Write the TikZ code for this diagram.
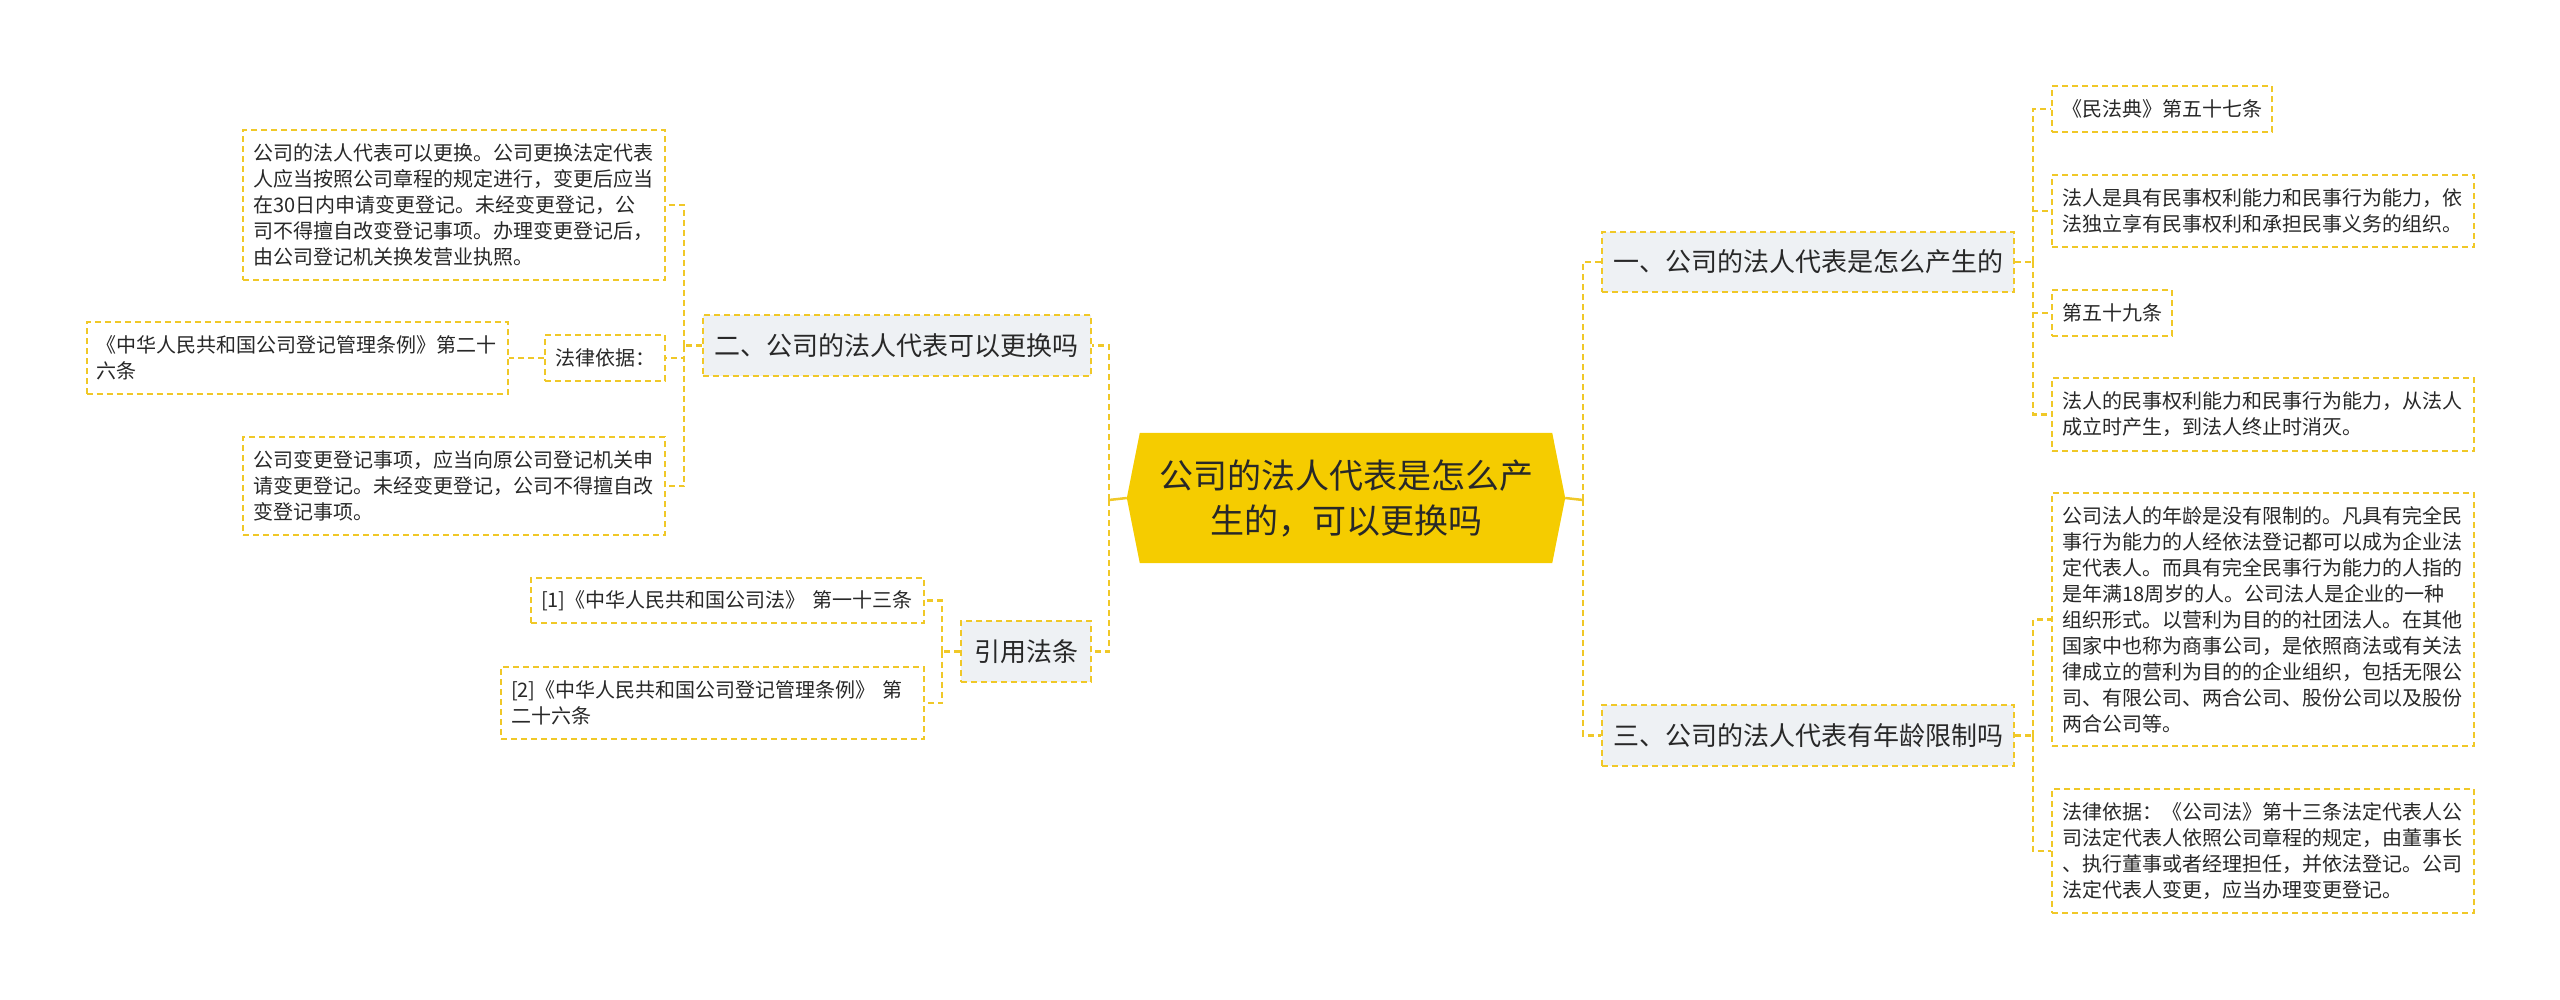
\documentclass[tikz,border=0pt]{standalone}
\usepackage{fontspec}
\setmainfont{Noto Sans CJK SC}
\usetikzlibrary{calc,backgrounds}
\definecolor{ycol}{RGB}{240,200,40}
\definecolor{cfill}{RGB}{245,204,0}
\definecolor{gfill}{RGB}{238,241,244}
\definecolor{tcol}{RGB}{40,40,40}
\tikzset{
  box/.style={draw=ycol, line width=2pt, dash pattern=on 6pt off 4pt, text=tcol},
  leaf/.style={box, fill=white, font=\fontsize{20}{26}\selectfont, align=left,
    inner xsep=10pt, inner ysep=0pt, text width=#1},
  topic/.style={box, fill=gfill, font=\fontsize{26}{32}\selectfont, align=center,
    inner sep=0pt, minimum height=61pt, minimum width=#1},
  conn/.style={draw=ycol, line width=2.5pt, dash pattern=on 6pt off 4pt},
  solidconn/.style={draw=ycol, line width=2.5pt},
  centertopic/.style={inner sep=0pt, minimum width=438pt, minimum height=130pt, text=tcol,
    font=\fontsize{34}{45}\selectfont, align=center},
}
\begin{document}
\begin{tikzpicture}[x=1pt,y=-1pt]
\useasboundingbox (0,0) rectangle (2560,999);
% center
\node[centertopic] (c) at (1346,498) {公司的法人代表是怎么产\\生的，可以更换吗};
\begin{scope}[on background layer]
\fill[cfill] ([xshift=13pt]c.north west) -- ([xshift=-13pt]c.north east) -- (c.east)
  -- ([xshift=-13pt]c.south east) -- ([xshift=13pt]c.south west) -- (c.west) -- cycle;
\end{scope}

% level 1 nodes
\node[topic=388pt] (n2) at (896.6,345.5) {二、公司的法人代表可以更换吗};
\node[topic=130pt] (n4) at (1026,651.5) {引用法条};
\node[topic=412pt, minimum height=60pt] (n1) at (1808,262) {一、公司的法人代表是怎么产生的};
\node[topic=412pt] (n3) at (1808,735.5) {三、公司的法人代表有年龄限制吗};

% left leaves
\node[leaf=402pt, minimum height=150pt] (A) at (454,205) {公司的法人代表可以更换。公司更换法定代表\\人应当按照公司章程的规定进行，变更后应当\\在30日内申请变更登记。未经变更登记，公\\司不得擅自改变登记事项。办理变更登记后，\\由公司登记机关换发营业执照。};
\node[leaf=401pt, minimum height=72pt] (B) at (297,358) {《中华人民共和国公司登记管理条例》第二十\\六条};
\node[leaf=100pt, minimum height=46pt] (C) at (605,358) {法律依据：};
\node[leaf=402pt, minimum height=98pt] (D) at (454,486) {公司变更登记事项，应当向原公司登记机关申\\请变更登记。未经变更登记，公司不得擅自改\\变登记事项。};
\node[leaf=373pt, minimum height=45pt] (E) at (727.5,600.5) {[1]《中华人民共和国公司法》 第一十三条};
\node[leaf=403pt, minimum height=72pt] (F) at (712.5,703) {[2]《中华人民共和国公司登记管理条例》 第\\二十六条};

% right leaves
\node[leaf=200pt, minimum height=46pt] (G) at (2162,109) {《民法典》第五十七条};
\node[leaf=402pt, minimum height=72pt] (H) at (2263,211) {法人是具有民事权利能力和民事行为能力，依\\法独立享有民事权利和承担民事义务的组织。};
\node[leaf=100pt, minimum height=46pt] (I) at (2112,313) {第五十九条};
\node[leaf=402pt, minimum height=73pt] (J) at (2263,414.5) {法人的民事权利能力和民事行为能力，从法人\\成立时产生，到法人终止时消灭。};
\node[leaf=402pt, minimum height=253pt] (K) at (2263,619.5) {公司法人的年龄是没有限制的。凡具有完全民\\事行为能力的人经依法登记都可以成为企业法\\定代表人。而具有完全民事行为能力的人指的\\是年满18周岁的人。公司法人是企业的一种\\组织形式。以营利为目的的社团法人。在其他\\国家中也称为商事公司，是依照商法或有关法\\律成立的营利为目的的企业组织，包括无限公\\司、有限公司、两合公司、股份公司以及股份\\两合公司等。};
\node[leaf=402pt, minimum height=124pt] (L) at (2263,851) {法律依据：《公司法》第十三条法定代表人公\\司法定代表人依照公司章程的规定，由董事长\\、执行董事或者经理担任，并依法登记。公司\\法定代表人变更，应当办理变更登记。};

% junction coordinates
\coordinate (cL) at (1109,500);
\coordinate (cR) at (1583,500);
\coordinate (a2) at (684,345.5);
\coordinate (a4) at (942,651.5);
\coordinate (a1) at (2033,262);
\coordinate (a3) at (2033,735.5);

% connectors
\draw[solidconn] (c.west) -- (cL);
\draw[solidconn] (c.east) -- (cR);
\draw[conn] (cL) |- (n2.east);
\draw[conn] (cL) |- (n4.east);
\draw[conn] (cR) |- (n1.west);
\draw[conn] (cR) |- (n3.west);

\draw[conn] (n2.west) -- (a2);
\draw[conn] (a2) |- (A.east);
\draw[conn] (a2) |- (C.east);
\draw[conn] (a2) |- (D.east);
\draw[conn] (C.west) -- (B.east);

\draw[conn] (n4.west) -- (a4);
\draw[conn] (a4) |- (E.east);
\draw[conn] (a4) |- (F.east);

\draw[conn] (n1.east) -- (a1);
\draw[conn] (a1) |- (G.west);
\draw[conn] (a1) |- (H.west);
\draw[conn] (a1) |- (I.west);
\draw[conn] (a1) |- (J.west);

\draw[conn] (n3.east) -- (a3);
\draw[conn] (a3) |- (K.west);
\draw[conn] (a3) |- (L.west);
\end{tikzpicture}
\end{document}
